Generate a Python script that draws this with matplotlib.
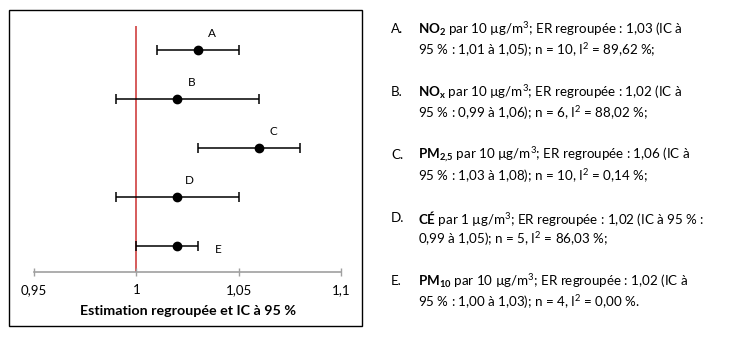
import matplotlib
matplotlib.use("Agg")
import matplotlib.pyplot as plt
from matplotlib.patches import Rectangle

plt.rcParams['font.family'] = ['Lato', 'DejaVu Sans']
plt.rcParams['mathtext.fontset'] = 'custom'
plt.rcParams['mathtext.rm'] = 'Lato'
plt.rcParams['mathtext.it'] = 'Lato:italic'
plt.rcParams['mathtext.bf'] = 'Lato:bold'

# Pooled estimates (ER) with 95 % confidence intervals
labels = ['A', 'B', 'C', 'D', 'E']
estimates = [1.03, 1.02, 1.06, 1.02, 1.02]
ci_low = [1.01, 0.99, 1.03, 0.99, 1.00]
ci_high = [1.05, 1.06, 1.08, 1.05, 1.03]
rows = [5, 4, 3, 2, 1]

x_ticks = [0.95, 1.0, 1.05, 1.1]
x_ticklabels = ['0,95', '1', '1,05', '1,1']

legend_lines = [
    ("A.", r"$\mathbf{NO_2}$ par 10 µg/m$^3$; ER regroupée : 1,03 (IC à",
     "95 % : 1,01 à 1,05); n = 10, I$^2$ = 89,62 %;"),
    ("B.", r"$\mathbf{NO_x}$ par 10 µg/m$^3$; ER regroupée : 1,02 (IC à",
     "95 % : 0,99 à 1,06); n = 6, I$^2$ = 88,02 %;"),
    ("C.", r"$\mathbf{PM_{2{,}5}}$ par 10 µg/m$^3$; ER regroupée : 1,06 (IC à",
     "95 % : 1,03 à 1,08); n = 10, I$^2$ = 0,14 %;"),
    ("D.", r"$\mathbf{CÉ}$ par 1 µg/m$^3$; ER regroupée : 1,02 (IC à 95 % :",
     "0,99 à 1,05); n = 5, I$^2$ = 86,03 %;"),
    ("E.", r"$\mathbf{PM_{10}}$ par 10 µg/m$^3$; ER regroupée : 1,02 (IC à",
     "95 % : 1,00 à 1,03); n = 4, I$^2$ = 0,00 %."),
]

W, H = 729, 337
fig = plt.figure(figsize=(W / 100, H / 100), dpi=100)

# axes rectangle in pixels
left, right, top, bottom = 34, 341, 26, 272
ax = fig.add_axes([left / W, 1 - bottom / H, (right - left) / W, (bottom - top) / H])
ax.set_xlim(0.95, 1.1)
ax.set_ylim(0.47, 5.49)

ax.axvline(1.0, color='#d0403f', lw=1.2, zorder=1)

lower = [e - l for e, l in zip(estimates, ci_low)]
upper = [h - e for e, h in zip(estimates, ci_high)]
ax.errorbar(estimates, rows, xerr=[lower, upper], fmt='o', color='black',
            ms=6, lw=1.1, capsize=3.5, capthick=1.1, zorder=3)

offsets = [(14, 17), (14, 17), (14, 17), (12, 17), (41, -3)]
for lab, est, r, off in zip(labels, estimates, rows, offsets):
    ax.annotate(lab, (est, r), xytext=off, textcoords='offset pixels',
                ha='center', va='center', fontsize=8.5)

for s in ['top', 'right', 'left']:
    ax.spines[s].set_visible(False)
ax.spines['bottom'].set_color('#a0a0a0')
ax.spines['bottom'].set_linewidth(1.2)
ax.set_yticks([])
ax.set_xticks(x_ticks)
ax.set_xticklabels(x_ticklabels, fontsize=9.5)
ax.tick_params(axis='x', direction='inout', length=6, width=1, color='#a0a0a0',
               pad=6)
ax.set_xlabel('Estimation regroupée et IC à 95 %', fontsize=10.3,
              fontweight='bold', labelpad=6)
ax.patch.set_alpha(0)

# frame around the chart
fig.patches.append(Rectangle((9 / W, 1 - 326 / H), (362 - 9) / W, (326 - 10) / H,
                             transform=fig.transFigure, fill=False,
                             edgecolor='black', lw=1))

# text block on the right
line1_y = [29, 92, 155, 218, 281]
fs = 9.6
for (lab, l1, l2), y in zip(legend_lines, line1_y):
    fig.text(391 / W, 1 - y / H, lab, fontsize=fs, va='center', ha='left')
    fig.text(418 / W, 1 - y / H, l1, fontsize=fs, va='center', ha='left')
    fig.text(418 / W, 1 - (y + 21) / H, l2, fontsize=fs, va='center', ha='left')

fig.savefig('out.png', dpi=100, facecolor='white')
